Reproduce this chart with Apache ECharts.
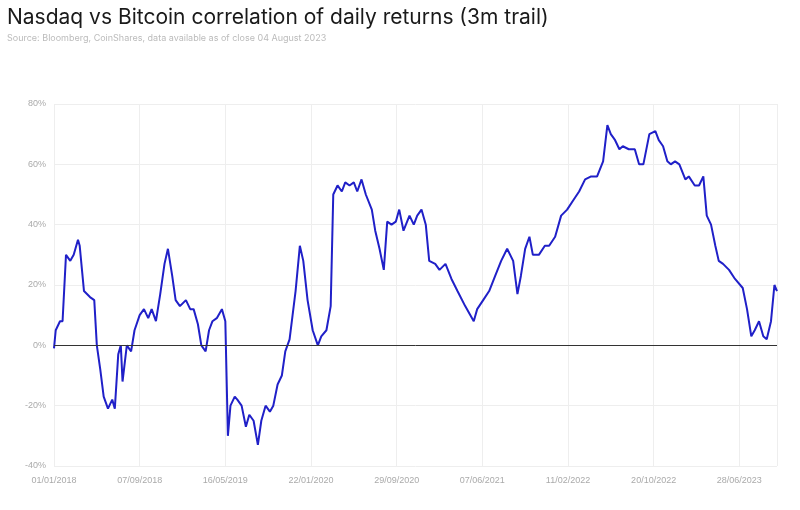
<!DOCTYPE html>
<html>
<head>
<meta charset="utf-8">
<script src="https://cdn.jsdelivr.net/npm/echarts@6/dist/echarts.min.js"></script>
<style>html,body{margin:0;background:#fff}#main{width:800px;height:510px}</style>
</head>
<body>
<div id="main"></div>
<script>
// x labels, one per tick unit
var tickLabels = ['01/01/2018','07/09/2018','16/05/2019','22/01/2020','29/09/2020','07/06/2021','11/02/2022','20/10/2022','28/06/2023'];
// [position in tick units, correlation %]
var corrSeries = [
  [0,-1],[0.02,5],[0.07,8],[0.10,8],[0.14,30],[0.19,28],[0.23,30],[0.28,35],[0.30,33],[0.35,18],
  [0.42,16],[0.47,15],[0.50,0],[0.54,-8],[0.58,-17],[0.63,-21],[0.68,-18],[0.71,-21],[0.75,-3],[0.78,0],
  [0.80,-12],[0.85,0],[0.90,-2],[0.94,5],[1.00,10],[1.05,12],[1.10,9],[1.14,12],[1.19,8],[1.24,17],
  [1.29,27],[1.33,32],[1.38,23],[1.42,15],[1.47,13],[1.54,15],[1.59,12],[1.63,12],[1.68,7],[1.72,0],
  [1.77,-2],[1.81,5],[1.85,8],[1.90,9],[1.96,12],[2.00,8],[2.03,-30],[2.06,-20],[2.11,-17],[2.14,-18],
  [2.19,-20],[2.24,-27],[2.28,-23],[2.33,-25],[2.38,-33],[2.42,-25],[2.47,-20],[2.52,-22],[2.56,-20],[2.61,-13],
  [2.66,-10],[2.70,-2],[2.75,2],[2.82,18],[2.87,33],[2.91,28],[2.96,15],[3.02,5],[3.08,0],[3.12,3],
  [3.18,5],[3.23,13],[3.26,50],[3.31,53],[3.36,51],[3.40,54],[3.45,53],[3.50,54],[3.54,51],[3.59,55],
  [3.64,50],[3.71,45],[3.75,38],[3.80,32],[3.85,25],[3.89,41],[3.94,40],[3.99,41],[4.03,45],[4.08,38],
  [4.15,43],[4.20,40],[4.24,43],[4.29,45],[4.34,40],[4.38,28],[4.45,27],[4.50,25],[4.57,27],[4.64,22],
  [4.71,18],[4.80,13],[4.90,8],[4.94,12],[5.01,15],[5.08,18],[5.15,23],[5.22,28],[5.29,32],[5.36,28],
  [5.41,17],[5.45,23],[5.50,32],[5.55,36],[5.59,30],[5.66,30],[5.73,33],[5.78,33],[5.85,36],[5.92,43],
  [5.99,45],[6.06,48],[6.13,51],[6.20,55],[6.27,56],[6.34,56],[6.41,61],[6.46,73],[6.50,70],[6.55,68],
  [6.60,65],[6.64,66],[6.71,65],[6.78,65],[6.83,60],[6.88,60],[6.95,70],[7.02,71],[7.06,68],[7.11,66],
  [7.16,61],[7.20,60],[7.25,61],[7.30,60],[7.37,55],[7.41,56],[7.48,53],[7.53,53],[7.58,56],[7.62,43],
  [7.67,40],[7.72,33],[7.76,28],[7.81,27],[7.88,25],[7.95,22],[8.04,19],[8.09,12],[8.14,3],[8.18,5],
  [8.23,8],[8.28,3],[8.32,2],[8.37,8],[8.41,20],[8.44,18]
];
var grey = '#aaa';
var myChart = echarts.init(document.getElementById('main'));
myChart.setOption({
  animation: false,
  title: {
    text: 'Nasdaq vs Bitcoin correlation of daily returns (3m trail)',
    subtext: 'Source: Bloomberg, CoinShares, data available as of close 04 August 2023',
    left: 2, top: 2, itemGap: 6,
    textStyle: {fontFamily: 'Inter', fontSize: 21, fontWeight: 'normal', color: '#1a1a1a'},
    subtextStyle: {fontFamily: 'Inter', fontSize: 9, color: '#bbb'}
  },
  grid: {left: 54, right: 23, top: 104, bottom: 44},
  xAxis: {
    type: 'value', min: 0, max: 8.44, interval: 1,
    axisLine: {show: false}, axisTick: {show: false},
    splitLine: {lineStyle: {color: '#eee'}},
    axisLabel: {color: grey, fontSize: 9, margin: 10, showMaxLabel: false,
      formatter: function (v) { return tickLabels[Math.round(v)] || ''; }}
  },
  yAxis: {
    type: 'value', min: -40, max: 80, interval: 20,
    axisLine: {show: false}, axisTick: {show: false},
    splitLine: {lineStyle: {color: '#eee'}},
    axisLabel: {color: grey, fontSize: 9, formatter: '{value}%'}
  },
  series: [{
    type: 'line', data: corrSeries, showSymbol: false,
    lineStyle: {color: '#2020c8', width: 2},
    markLine: {silent: true, symbol: 'none', label: {show: false},
      lineStyle: {color: '#333', width: 1, type: 'solid'},
      data: [{yAxis: 0}]}
  }]
});
</script>
</body>
</html>
